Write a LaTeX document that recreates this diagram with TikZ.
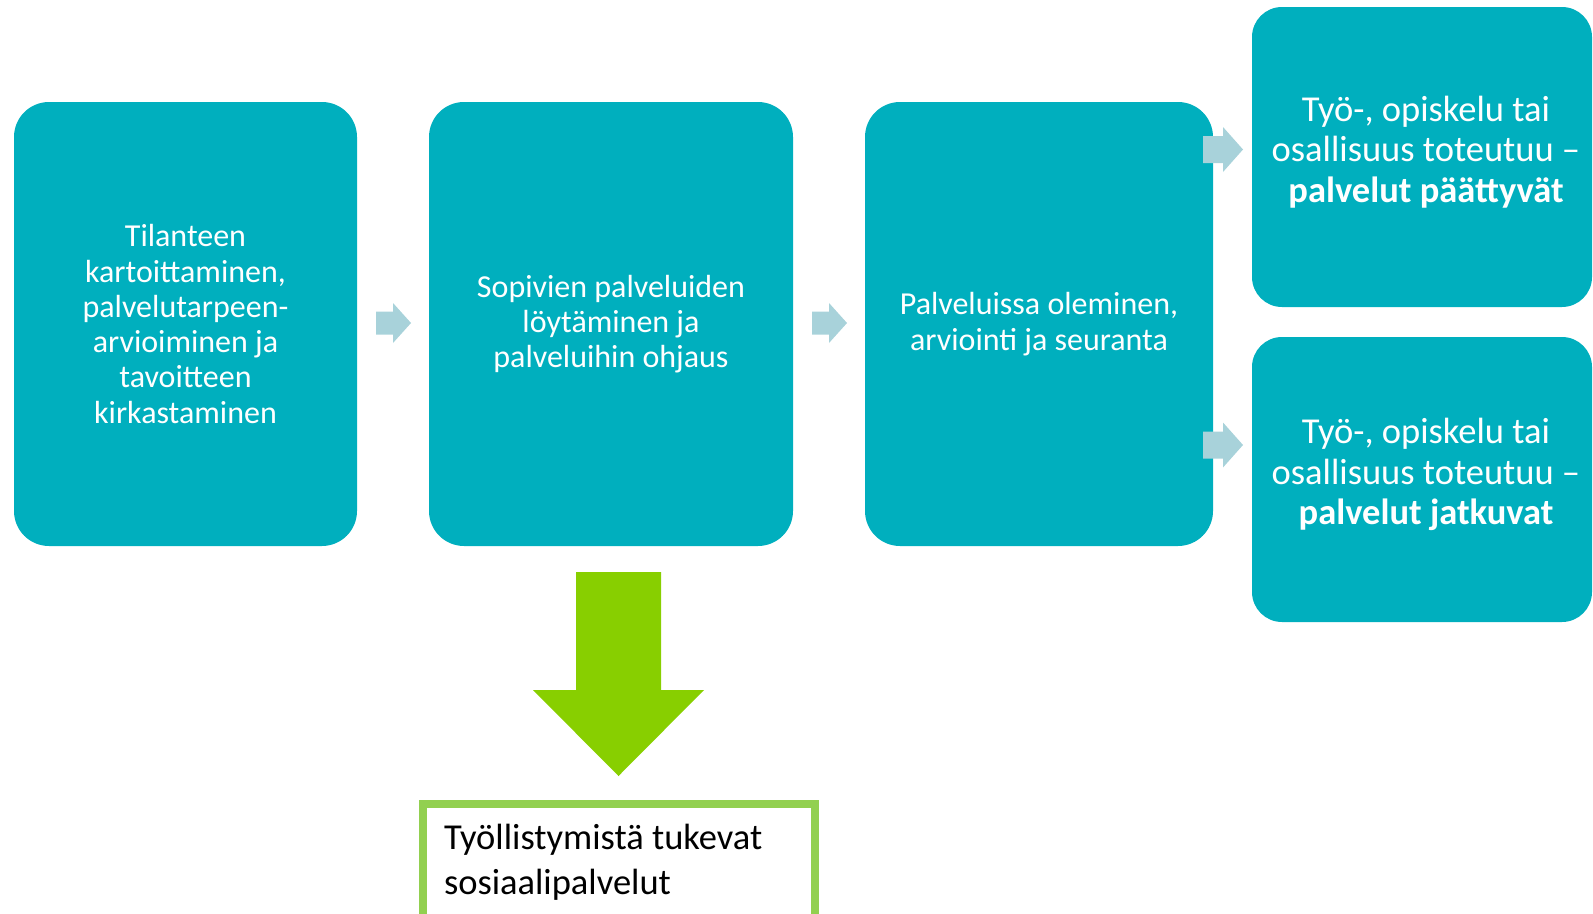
\documentclass[tikz,border=0pt]{standalone}
\usepackage{fontspec}
\setmainfont{Carlito}
\usepackage{tikz}
\usetikzlibrary{positioning}
\definecolor{tealbox}{RGB}{0,175,190}
\definecolor{paleblue}{RGB}{168,210,218}
\definecolor{limegreen}{RGB}{136,207,0}
\definecolor{framegreen}{RGB}{146,208,80}
\tikzset{
  phase/.style={fill=tealbox, rounded corners=35pt, inner sep=0pt, text=white,
    align=center, font=\fontsize{32}{35.3}\selectfont},
  result/.style={fill=tealbox, rounded corners=30pt, inner sep=0pt},
  resulttext/.style={text=white, align=center, inner sep=0pt,
    font=\fontsize{36.5}{40.6}\selectfont},
  flowarrow/.style={fill=paleblue},
  servicebox/.style={draw=framegreen, line width=8pt, fill=white, anchor=north west,
    align=flush left, text width=350pt, inner xsep=21pt, inner ysep=20pt,
    font=\fontsize{36.5}{45}\selectfont}
}
\begin{document}
\begin{tikzpicture}[x=1pt,y=-1pt]
                    \useasboundingbox (0,0) rectangle (1593,913);
                    % main phases
                    \node [phase, minimum width=343pt, minimum height=444pt] (p1) at (185.5,324)
                      {Tilanteen\\kartoittaminen,\\palvelutarpeen-\\arvioiminen ja\\tavoitteen\\kirkastaminen};
                    \node [phase, minimum width=364pt, minimum height=444pt] (p2) at (611,324)
                      {Sopivien palveluiden\\löytäminen ja\\palveluihin ohjaus};
                    \node [phase, minimum width=348pt, minimum height=444pt] (p3) at (1039,324)
                      {Palveluissa oleminen,\\arviointi ja seuranta};
                    % outcomes
                    \node [result, minimum width=340pt, minimum height=300pt] (r1) at (1422,157) {};
                    \node [resulttext] (r1t) at ([yshift=5pt,xshift=4pt]r1.center)
                      {Työ-, opiskelu tai\\osallisuus toteutuu –\\\textbf{palvelut päättyvät}};
                    \node [result, minimum width=340pt, minimum height=285pt] (r2) at (1422,479.5) {};
                    \node [resulttext] (r2t) at ([yshift=5pt,xshift=4pt]r2.center)
                      {Työ-, opiskelu tai\\osallisuus toteutuu –\\\textbf{palvelut jatkuvat}};
                    % small arrows between the boxes
                    \coordinate (a1) at (376,323);
                    \coordinate (a2) at (812,323);
                    \coordinate (a3) at (1203,149.5);
                    \coordinate (a4) at (1203,445);
                    \fill [flowarrow] (a1) ++(0,-11.5) -- ++(17,0) -- ++(0,-8.5) -- ++(18,20)
                      -- ++(-18,20) -- ++(0,-8.5) -- ++(-17,0) -- cycle;
                    \fill [flowarrow] (a2) ++(0,-11.5) -- ++(17,0) -- ++(0,-8.5) -- ++(18,20)
                      -- ++(-18,20) -- ++(0,-8.5) -- ++(-17,0) -- cycle;
                    \fill [flowarrow] (a3) ++(0,-13.5) -- ++(20,0) -- ++(0,-9) -- ++(20,22.5)
                      -- ++(-20,22.5) -- ++(0,-9) -- ++(-20,0) -- cycle;
                    \fill [flowarrow] (a4) ++(0,-13.5) -- ++(20,0) -- ++(0,-9) -- ++(20,22.5)
                      -- ++(-20,22.5) -- ++(0,-9) -- ++(-20,0) -- cycle;
                    % big green arrow down
                    \coordinate (g) at (618.5,572);
                    \fill [limegreen] (g) ++(-42.5,0) -- ++(85,0) -- ++(0,118) -- ++(43,0)
                      -- (618.5,776) -- (533,690) -- ++(43,0) -- cycle;
                    % services box
                    \node [servicebox] (s) at (419,800)
                      {Työllistymistä tukevat\\sosiaalipalvelut};
                \end{tikzpicture}
\end{document}
